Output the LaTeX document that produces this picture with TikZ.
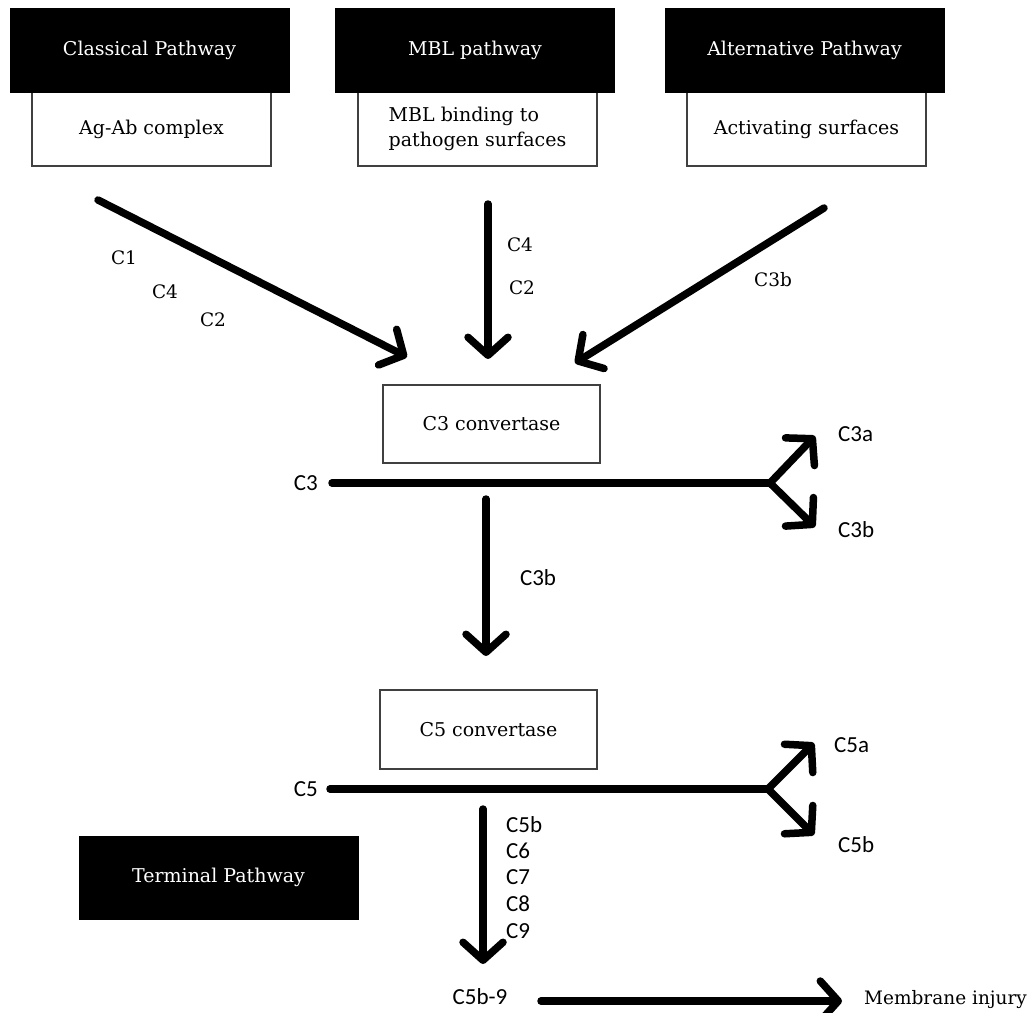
\documentclass[tikz,border=0pt]{standalone}
\usepackage{fontspec}
\setmainfont{DejaVu Serif}
\newfontfamily\labfont{Carlito}
\usetikzlibrary{arrows.meta}
\begin{document}
\begin{tikzpicture}[x=1pt,y=-1pt,
  blk/.style={fill=black, draw=black, text=white, minimum width=279pt, minimum height=84pt, inner sep=0pt, font=\fontsize{19}{22}\selectfont},
  wbox/.style={draw=black!75, line width=1.2pt, fill=white, inner sep=0pt, font=\fontsize{19}{25}\selectfont},
  fatarrow/.style={line width=7.5pt, line cap=round, -{Straight Barb[length=18pt,width=40pt,round]}},
  bar/.style={line width=7.5pt, line cap=round},
  slab/.style={font=\fontsize{18.5}{22}\selectfont, inner sep=0pt},
  sans/.style={font=\labfont\fontsize{23}{26}\selectfont, inner sep=0pt}]
\useasboundingbox (0,0) rectangle (1035,1012);

% top pathway boxes
\node[wbox, minimum width=239pt, minimum height=74pt] (clw) at (151.5,129) {Ag-Ab complex};
\node[wbox, minimum width=239pt, minimum height=74pt, align=left] (mbw) at (477.5,129) {MBL binding to\\pathogen surfaces};
\node[wbox, minimum width=239pt, minimum height=74pt] (alw) at (806.5,129) {Activating surfaces};
\node[blk] (clb) at (149.5,50) {Classical Pathway};
\node[blk] (mbb) at (475,50) {MBL pathway};
\node[blk] (alb) at (804.5,50) {Alternative Pathway};

% convertase boxes
\node[wbox, minimum width=217pt, minimum height=78pt] (c3conv) at (491.5,424) {C3 convertase};
\node[wbox, minimum width=217pt, minimum height=79pt] (c5conv) at (488.5,729.5) {C5 convertase};
\node[blk, minimum width=279pt, minimum height=83pt] (term) at (218.5,877.5) {Terminal Pathway};

% arrow end points
\coordinate (a1s) at (98,200);  \coordinate (a1e) at (407,357);
\coordinate (a2s) at (488,204); \coordinate (a2e) at (488,359);
\coordinate (a3s) at (824,208); \coordinate (a3e) at (575,363);
\coordinate (c3s) at (332,483); \coordinate (f3) at (770,483);
\coordinate (f3a) at (815,436); \coordinate (f3b) at (815,527);
\coordinate (d1s) at (486,499); \coordinate (d1e) at (486,656);
\coordinate (c5s) at (330,789); \coordinate (f5) at (768,789);
\coordinate (f5a) at (814,743); \coordinate (f5b) at (814,835);
\coordinate (d2s) at (483,809); \coordinate (d2e) at (483,964);
\coordinate (ms) at (541,1001); \coordinate (me) at (842,1001);

\draw[fatarrow] (a1s) -- (a1e);
\draw[fatarrow] (a2s) -- (a2e);
\draw[fatarrow] (a3s) -- (a3e);
\draw[bar] (c3s) -- (f3);
\draw[fatarrow] (f3) -- (f3a);
\draw[fatarrow] (f3) -- (f3b);
\draw[fatarrow] (d1s) -- (d1e);
\draw[bar] (c5s) -- (f5);
\draw[fatarrow] (f5) -- (f5a);
\draw[fatarrow] (f5) -- (f5b);
\draw[fatarrow] (d2s) -- (d2e);
\draw[fatarrow] (ms) -- (me);

% serif labels
\node[slab] (l1) at (124,258) {C1};
\node[slab] (l2) at (165,292) {C4};
\node[slab] (l3) at (213,320) {C2};
\node[slab] (l4) at (520,245) {C4};
\node[slab] (l5) at (522,288) {C2};
\node[slab] (l6) at (773,280) {C3b};
\node[slab, anchor=west] (mi) at (864,1000) {Membrane injury};

% sans labels
\node[sans, anchor=east] (c3lab) at (318,483) {C3};
\node[sans, anchor=west] (c3a) at (838,434) {C3a};
\node[sans, anchor=west] (c3b) at (838,530) {C3b};
\node[sans] (c3bm) at (538,578) {C3b};
\node[sans, anchor=east] (c5lab) at (318,789) {C5};
\node[sans, anchor=west] (c5a) at (834,745) {C5a};
\node[sans, anchor=west] (c5b) at (838,845) {C5b};
\node[sans, anchor=west] (k1) at (506,825) {C5b};
\node[sans, anchor=west] (k2) at (506,851) {C6};
\node[sans, anchor=west] (k3) at (506,877) {C7};
\node[sans, anchor=west] (k4) at (506,904) {C8};
\node[sans, anchor=west] (k5) at (506,931) {C9};
\node[sans] (c5b9) at (480,997) {C5b-9};
\end{tikzpicture}
\end{document}
